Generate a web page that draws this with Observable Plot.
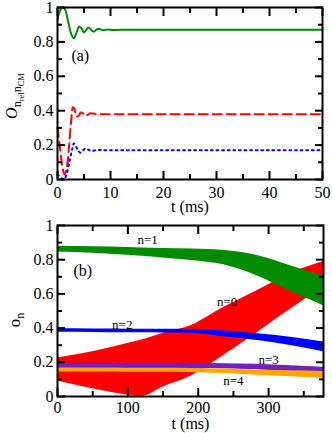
<!DOCTYPE html>
<html><head><meta charset="utf-8">
<script src="https://cdn.jsdelivr.net/npm/d3@7"></script>
<script src="https://cdn.jsdelivr.net/npm/@observablehq/plot@0.6"></script>
<style>
body{margin:0;background:#fff}
#chart{width:332px;height:433px}
#chart svg{display:block}
#chart svg, #chart svg text{font-family:"Liberation Serif","Times New Roman",serif !important}
</style>
</head><body><div id="chart"></div>
<script>
// ---- Panel (a) data: t (ms) and O values ----
const greenT = [0,0.4,0.9,1.4,2.0,2.6,3.1,3.6,4.1,4.6,5.0,5.4,5.8,6.3,6.8,7.3,7.8,8.5,9.5,10.5,12,20,30,40,50];
const greenV = [0.93,0.975,1.0,0.99,0.92,0.845,0.82,0.855,0.89,0.875,0.855,0.868,0.884,0.872,0.86,0.87,0.876,0.868,0.872,0.869,0.871,0.87,0.87,0.87,0.87];
const redT = [0,0.5,0.9,1.3,1.7,2.2,2.6,2.9,3.2,3.6,4.0,4.4,4.8,5.2,5.7,6.2,7,8,10,20,30,40,50];
const redV = [0.30,0.18,0.08,0.03,0.06,0.2,0.35,0.42,0.41,0.365,0.37,0.39,0.385,0.37,0.375,0.385,0.382,0.38,0.38,0.38,0.38,0.38,0.38];
const blueT = [0,0.6,1.2,1.8,2.3,2.8,3.1,3.5,3.9,4.3,4.8,5.3,5.9,6.5,7.5,9,20,30,40,50];
const blueV = [0.03,0.012,0.0,0.04,0.11,0.18,0.21,0.19,0.17,0.155,0.168,0.18,0.172,0.166,0.172,0.17,0.17,0.17,0.17,0.17];

// ---- Panel (b) data: envelopes of o_n bands ----
const tB   = [0, 50, 100, 120, 150, 190, 236, 284, 331, 378];
const n0Hi = [0.225,0.262,0.31,0.33,0.37,0.415,0.52,0.62,0.72,0.79];
const n0Lo = [0.09,0.045,0.008,0.0,0.055,0.12,0.24,0.375,0.51,0.64];
const n1Hi = [0.878,0.876,0.872,0.869,0.866,0.862,0.854,0.825,0.765,0.705];
const n1Lo = [0.845,0.838,0.826,0.82,0.81,0.795,0.77,0.705,0.615,0.53];
const n2Hi = [0.396,0.395,0.394,0.394,0.393,0.392,0.385,0.367,0.347,0.318];
const n2Lo = [0.376,0.375,0.373,0.373,0.372,0.37,0.35,0.327,0.298,0.262];
const n3Hi = [0.195,0.195,0.195,0.195,0.195,0.194,0.192,0.188,0.18,0.171];
const n3Lo = [0.167,0.167,0.166,0.166,0.166,0.165,0.162,0.156,0.145,0.133];
const n4Hi = [0.166,0.166,0.165,0.165,0.165,0.164,0.161,0.155,0.15,0.146];
const n4Lo = [0.143,0.143,0.142,0.142,0.142,0.14,0.134,0.125,0.116,0.107];

// ---- Tick values and labels ----
const xTicksA = [0,10,20,30,40,50];
const xMinorA = [5,15,25,35,45];
const xTicksB = [0,100,200,300];
const xMinorB = [50,150,250,350];
const yTicks = [0,0.2,0.4,0.6,0.8,1];
const yMinor = [0.1,0.3,0.5,0.7,0.9];
const xLabel = "t (ms)";
const panelA = "(a)";
const panelB = "(b)";
const curveLabels = ["n=1","n=2","n=0","n=3","n=4"];
const curveLabelT = [128, 92, 241, 300, 250];
const curveLabelV = [0.918, 0.42, 0.556, 0.216, 0.094];

const series = (T, V) => T.map((t, i) => ({t, v: V[i]}));
const band = (Lo, Hi) => tB.map((t, i) => ({t, lo: Lo[i], hi: Hi[i]}));
const yFmt = d => String(+d.toFixed(1));
const FONT = "Liberation Serif";

function frameAxes(xMaj, xMin, xPad) {
  const s = {strokeWidth: 2, label: null, fontSize: 16, fontFamily: FONT};
  return [
    Plot.axisX(xMaj, {...s, anchor: "bottom", tickSize: -8, tickPadding: xPad, tickFormat: d => String(d)}),
    Plot.axisX(xMin, {...s, anchor: "bottom", tickSize: -5, fill: "none", tickFormat: () => ""}),
    Plot.axisX(xMaj, {...s, anchor: "top", tickSize: -8, fill: "none", tickFormat: () => ""}),
    Plot.axisX(xMin, {...s, anchor: "top", tickSize: -5, fill: "none", tickFormat: () => ""}),
    Plot.axisY(yTicks, {...s, anchor: "left", tickSize: -8, tickPadding: 12, tickFormat: yFmt}),
    Plot.axisY(yMinor, {...s, anchor: "left", tickSize: -5, fill: "none", tickFormat: () => ""}),
    Plot.axisY(yTicks, {...s, anchor: "right", tickSize: -8, fill: "none", tickFormat: () => ""}),
    Plot.axisY(yMinor, {...s, anchor: "right", tickSize: -5, fill: "none", tickFormat: () => ""}),
    Plot.frame({strokeWidth: 2}),
    Plot.text([xLabel], {frameAnchor: "bottom", dy: 27, lineAnchor: "middle", fontSize: 16, fontFamily: FONT, text: d => d})
  ];
}

const chartA = Plot.plot({
  width: 332, height: 216,
  marginLeft: 57, marginRight: 10, marginTop: 7, marginBottom: 37,
  style: {fontFamily: FONT, fontSize: "16px", background: "#fff"},
  x: {domain: [0, 50]},
  y: {domain: [0, 1]},
  marks: [
    Plot.line(series(greenT, greenV), {x: "t", y: "v", stroke: "#008b00", strokeWidth: 2, curve: "catmull-rom"}),
    Plot.line(series(redT, redV), {x: "t", y: "v", stroke: "#ff0000", strokeWidth: 2, strokeDasharray: "9,5", curve: "catmull-rom"}),
    Plot.line(series(blueT, blueV), {x: "t", y: "v", stroke: "#0000ff", strokeWidth: 2, strokeDasharray: "1.8,3.8", curve: "catmull-rom"}),
    ...frameAxes(xTicksA, xMinorA, 15),
    Plot.text([panelA], {x: 4.3, y: 0.72, fontSize: 16, fontFamily: FONT, text: d => d})
  ]
});

const chartB = Plot.plot({
  width: 332, height: 217,
  marginLeft: 57, marginRight: 9, marginTop: 9, marginBottom: 37,
  style: {fontFamily: FONT, fontSize: "16px", background: "#fff"},
  x: {domain: [0, 378]},
  y: {domain: [0, 1]},
  marks: [
    Plot.areaY(band(n0Lo, n0Hi), {x: "t", y1: "lo", y2: "hi", fill: "#ff0000", curve: "monotone-x"}),
    Plot.areaY(band(n1Lo, n1Hi), {x: "t", y1: "lo", y2: "hi", fill: "#008b00", curve: "monotone-x"}),
    Plot.areaY(band(n2Lo, n2Hi), {x: "t", y1: "lo", y2: "hi", fill: "#0000ff", curve: "monotone-x"}),
    Plot.areaY(band(n3Lo, n3Hi), {x: "t", y1: "lo", y2: "hi", fill: "#7221bc", curve: "monotone-x"}),
    Plot.areaY(band(n4Lo, n4Hi), {x: "t", y1: "lo", y2: "hi", fill: "#ffa500", curve: "monotone-x"}),
    ...frameAxes(xTicksB, xMinorB, 13),
    Plot.text([panelB], {x: 36, y: 0.737, fontSize: 16, fontFamily: FONT, text: d => d}),
    Plot.text(curveLabels, {x: curveLabelT, y: curveLabelV, text: curveLabels, fontSize: 13, fontFamily: FONT})
  ]
});

// y-axis titles with subscripts
const ta = d3.select(chartA).append("text")
  .attr("transform", "translate(17,96) rotate(-90)")
  .attr("text-anchor", "middle")
  .attr("font-family", FONT).attr("fill", "black");
ta.append("tspan").attr("font-style", "italic").attr("font-size", 16).text("O");
ta.append("tspan").attr("font-size", 12).attr("dy", 4).text("n");
ta.append("tspan").attr("font-size", 8.5).attr("dy", 3).text("rel");
ta.append("tspan").attr("font-size", 12).attr("dy", -3).text("n");
ta.append("tspan").attr("font-size", 8.5).attr("dy", 3).text("CM");

const tb = d3.select(chartB).append("text")
  .attr("transform", "translate(20,104) rotate(-90)")
  .attr("text-anchor", "middle")
  .attr("font-family", FONT).attr("fill", "black");
tb.append("tspan").attr("font-size", 17).text("o");
tb.append("tspan").attr("font-size", 12).attr("dy", 4).text("n");

document.getElementById("chart").append(chartA, chartB);
</script>
</body></html>
